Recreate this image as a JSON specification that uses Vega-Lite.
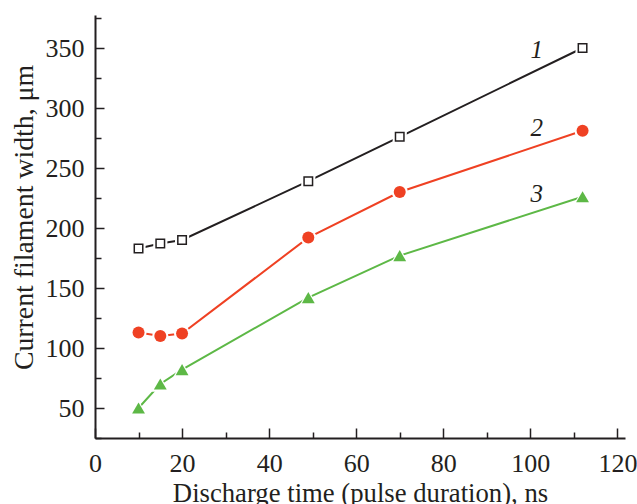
{
  "$schema": "https://vega.github.io/schema/vega-lite/v6.json",
  "width": 530,
  "height": 423,
  "autosize": "none",
  "padding": {"left": 95, "top": 15, "right": 12, "bottom": 66},
  "background": "white",
  "config": {"view": {"stroke": null}},
  "datasets": {
    "pts": [
      {"s": "1", "x": 10, "y": 183},
      {"s": "1", "x": 15, "y": 187},
      {"s": "1", "x": 20, "y": 190},
      {"s": "1", "x": 49, "y": 239},
      {"s": "1", "x": 70, "y": 276},
      {"s": "1", "x": 112, "y": 350},
      {"s": "2", "x": 10, "y": 113},
      {"s": "2", "x": 15, "y": 110},
      {"s": "2", "x": 20, "y": 112},
      {"s": "2", "x": 49, "y": 192},
      {"s": "2", "x": 70, "y": 230},
      {"s": "2", "x": 112, "y": 281},
      {"s": "3", "x": 10, "y": 50},
      {"s": "3", "x": 15, "y": 70},
      {"s": "3", "x": 20, "y": 82},
      {"s": "3", "x": 49, "y": 142},
      {"s": "3", "x": 70, "y": 177},
      {"s": "3", "x": 112, "y": 226}
    ],
    "labels": [
      {"t": "1", "x": 101.5, "y": 348},
      {"t": "2", "x": 101.5, "y": 283.5},
      {"t": "3", "x": 101.5, "y": 228.5}
    ]
  },
  "encoding": {
    "x": {
      "field": "x", "type": "quantitative",
      "scale": {"domain": [0, 121.75], "nice": false, "zero": false},
      "axis": {
        "values": [0, 10, 20, 30, 40, 50, 60, 70, 80, 90, 100, 110, 120],
        "labelExpr": "datum.value % 20 === 0 ? datum.label : ''",
        "tickSize": {"condition": {"test": "datum.value % 20 === 0", "value": -10}, "value": -6},
        "grid": false,
        "domainWidth": 2, "domainColor": "#231f20",
        "tickColor": "#231f20", "tickWidth": 1.5,
        "labelFont": "Liberation Serif", "labelFontSize": 26, "labelColor": "#231f20",
        "labelPadding": 22, "labelOverlap": false, "labelFlush": false, "labelBound": false,
        "title": "Discharge time (pulse duration), ns",
        "titleFont": "Liberation Serif", "titleFontSize": 26.7, "titleFontWeight": "normal",
        "titleColor": "#231f20", "titlePadding": 0
      }
    },
    "y": {
      "field": "y", "type": "quantitative",
      "scale": {"domain": [25, 377.5], "nice": false, "zero": false},
      "axis": {
        "values": [25, 50, 75, 100, 125, 150, 175, 200, 225, 250, 275, 300, 325, 350, 375],
        "labelExpr": "datum.value % 50 === 0 ? datum.label : ''",
        "tickSize": {"condition": {"test": "datum.value % 50 === 0", "value": -9}, "value": -6},
        "grid": false,
        "domainWidth": 2, "domainColor": "#231f20",
        "tickColor": "#231f20", "tickWidth": 1.5,
        "labelFont": "Liberation Serif", "labelFontSize": 26, "labelColor": "#231f20",
        "labelPadding": 20, "labelOverlap": false, "labelFlush": false, "labelBound": false,
        "title": "Current filament width, μm",
        "titleFont": "Liberation Serif", "titleFontSize": 27.8, "titleFontWeight": "normal",
        "titleColor": "#231f20", "titleX": -57, "titleY": 202, "titleAngle": -90,
        "titleAlign": "center", "titleBaseline": "bottom"
      }
    }
  },
  "layer": [
    {
      "data": {"name": "pts"},
      "mark": {"type": "line", "strokeWidth": 2},
      "encoding": {
        "color": {"field": "s", "type": "nominal",
          "scale": {"domain": ["1", "2", "3"], "range": ["#231f20", "#ef4123", "#5db846"]},
          "legend": null}
      }
    },
    {
      "data": {"name": "pts"},
      "transform": [{"filter": "datum.s === '1'"}],
      "mark": {"type": "point", "shape": "square", "filled": true, "opacity": 1, "color": "white", "size": 200}
    },
    {
      "data": {"name": "pts"},
      "transform": [{"filter": "datum.s === '2'"}],
      "mark": {"type": "point", "shape": "circle", "filled": true, "opacity": 1, "color": "white", "size": 260}
    },
    {
      "data": {"name": "pts"},
      "transform": [{"filter": "datum.s === '3'"}],
      "mark": {"type": "point", "shape": "triangle-up", "filled": true, "opacity": 1, "color": "white", "size": 330}
    },
    {
      "data": {"name": "pts"},
      "transform": [{"filter": "datum.s === '1'"}],
      "mark": {"type": "point", "shape": "square", "opacity": 1, "fill": "white", "stroke": "#231f20", "strokeWidth": 1.5, "size": 72}
    },
    {
      "data": {"name": "pts"},
      "transform": [{"filter": "datum.s === '2'"}],
      "mark": {"type": "point", "shape": "circle", "filled": true, "opacity": 1, "color": "#ef4123", "size": 144}
    },
    {
      "data": {"name": "pts"},
      "transform": [{"filter": "datum.s === '3'"}],
      "mark": {"type": "point", "shape": "triangle-up", "filled": true, "opacity": 1, "color": "#5db846", "size": 165}
    },
    {
      "data": {"name": "labels"},
      "mark": {"type": "text", "font": "Liberation Serif", "fontStyle": "italic", "fontSize": 25, "color": "#231f20", "baseline": "middle", "align": "center"},
      "encoding": {"text": {"field": "t"}}
    }
  ]
}
